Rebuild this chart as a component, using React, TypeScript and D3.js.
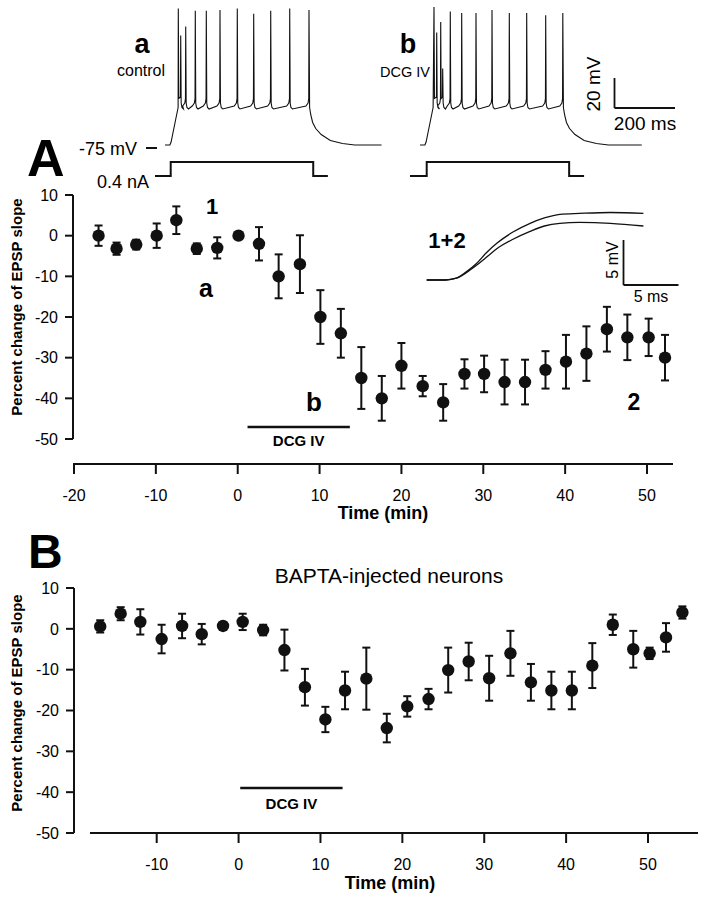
import React from "react";
import * as d3 from "d3";

// Panel A: control neurons (time in min, % change of EPSP slope, SEM)
const timeA = [-17, -14.8, -12.4, -9.9, -7.5, -5.0, -2.5, 0.1, 2.6, 5.0, 7.6, 10.1, 12.6, 15.1, 17.6, 20.0, 22.6, 25.1, 27.7, 30.1, 32.6, 35.1, 37.6, 40.1, 42.6, 45.1, 47.6, 50.2, 52.2];
const meanA = [0, -3.2, -2.2, 0, 3.8, -3.2, -3, 0, -2, -10, -7, -20, -24, -35, -40, -32, -37, -41, -34, -34, -36, -36, -33, -31, -29, -23, -25, -25, -30];
const semA = [2.5, 1.5, 1.2, 3, 3.4, 1.3, 2.6, 0, 4.1, 5.4, 7.1, 6.6, 6, 7.6, 5.5, 5.6, 2.5, 4.5, 3.6, 4.5, 5.5, 5.5, 4.6, 6.6, 6.7, 5.5, 5.6, 4.6, 5.6];

// Panel B: BAPTA-injected neurons
const timeB = [-16.9, -14.4, -12.0, -9.4, -6.9, -4.5, -1.9, 0.5, 3.0, 5.6, 8.1, 10.6, 13.0, 15.6, 18.1, 20.6, 23.2, 25.6, 28.1, 30.6, 33.2, 35.7, 38.2, 40.7, 43.2, 45.7, 48.2, 50.2, 52.2, 54.2];
const meanB = [0.6, 3.7, 1.7, -2.5, 0.7, -1.3, 0.7, 1.7, -0.3, -5.2, -14.3, -22.2, -15.1, -12.2, -24.3, -19, -17.2, -10.1, -8, -12.1, -6, -13.1, -15.1, -15.1, -9, 1, -5, -6, -2.1, 4];
const semB = [1.5, 1.6, 3.1, 3.5, 3, 2.5, 0, 2, 1.3, 5, 4.5, 3.1, 4.6, 7.6, 3.5, 2.5, 2.5, 5.5, 4.6, 5.5, 5.5, 4.5, 4.6, 4.6, 5.5, 2.5, 4.5, 1.4, 3.5, 1.5];

const yTicks = [10, 0, -10, -20, -30, -40, -50];
const xTicksA = [-20, -10, 0, 10, 20, 30, 40, 50];
const xTicksB = [-10, 0, 10, 20, 30, 40, 50];
const drugA: [number, number] = [1.2, 13.7];
const drugB: [number, number] = [0.2, 12.7];

// firing traces (ms from trace start, mV)
const spikesA = [43.6, 51.5, 67.9, 99.3, 135.4, 180.3, 237, 290.8, 346.6, 408.9, 472.1];
const peaksA = [16, -2, 4, 14.5, 14.5, 15, 16, 12.5, 14.5, 16, 15];
const spikesB = [45.9, 54.8, 67.9, 74.4, 99.3, 136.7, 183.6, 236.1, 292.8, 349.8, 412.1, 468.2];
const peaksB = [17, 0, 7, -24, 14, 13, 13, 15, 13, 13, 11.5, 13];
const onset: [number, number][] = [[0, -75], [16, -75], [20, -73], [26, -67], [34, -59], [40, -53], [43, -50]];
const offset: [number, number][] = [[2, -50], [6, -55], [12, -60], [22, -64], [40, -68], [70, -72], [110, -74], [150, -75]];
const stepA: [number, number][] = [[-32.8, 0], [18.7, 0], [18.7, 0.4], [486, 0.4], [486, 0], [534, 0]];
const stepB: [number, number][] = [[-32.8, 0], [22, 0], [22, 0.4], [489, 0.4], [489, 0], [538, 0]];
const endA = 710;
const endB = 727;

// EPSP insert (ms, mV)
const epsp1: [number, number][] = [[0, 0], [1.7, 0], [2.7, 0.2], [3.6, 0.9], [4.5, 1.8], [5.4, 3], [6.4, 4.1], [7.8, 5.3], [9.4, 6.3], [10.7, 6.9], [12.1, 7.3], [13.9, 7.4], [16.7, 7.5], [19.7, 7.4]];
const epsp2: [number, number][] = [[0, 0], [1.7, 0], [2.7, 0.2], [3.6, 0.8], [4.5, 1.6], [5.4, 2.5], [6.4, 3.5], [7.8, 4.5], [9.4, 5.4], [10.7, 6.0], [12.1, 6.3], [13.9, 6.4], [16.7, 6.3], [19.7, 6.0]];

const FONT = "'Liberation Sans', Arial, Helvetica, sans-serif";

function buildTrain(spikes: number[], peaks: number[], end: number): [number, number][] {
  const pts: [number, number][] = [...onset];
  spikes.forEach((t, i) => {
    pts.push([t, peaks[i]]);
    const next = spikes[i + 1];
    if (next === undefined) return;
    if (next - t < 12) {
      pts.push([t + 1.5, -44], [next - 0.8, -43]);
    } else {
      pts.push([t + 1.5, -47], [t + 4, -50], [t + 9, -51], [next - 10, -49], [next - 3, -47], [next - 0.8, -44]);
    }
  });
  const last = spikes[spikes.length - 1];
  offset.forEach(([dt, v]) => pts.push([last + dt, v]));
  pts.push([end, -75]);
  return pts;
}

const Trace = ({ x0, spikes, peaks, end, step }: { x0: number; spikes: number[]; peaks: number[]; end: number; step: [number, number][] }) => {
  const x = d3.scaleLinear().domain([0, 200]).range([x0, x0 + 61]);
  const y = d3.scaleLinear().domain([-75, -55]).range([145, 115]);
  const yI = d3.scaleLinear().domain([0, 0.4]).range([176, 162]);
  const line = d3.line<[number, number]>().x((d) => x(d[0])).y((d) => y(d[1]));
  const stepLine = d3.line<[number, number]>().x((d) => x(d[0])).y((d) => yI(d[1]));
  return (
    <g>
      <path d={line(buildTrain(spikes, peaks, end)) || ""} fill="none" stroke="#111" strokeWidth={1.1} />
      <path d={stepLine(step) || ""} fill="none" stroke="#111" strokeWidth={2} />
    </g>
  );
};

const ErrorPlot = ({ t, m, s, x, y }: { t: number[]; m: number[]; s: number[]; x: d3.ScaleLinear<number, number>; y: d3.ScaleLinear<number, number> }) => (
  <g>
    {t.map((tt, i) => {
      const cx = x(tt);
      const lo = y(m[i] - s[i]);
      const hi = y(m[i] + s[i]);
      return (
        <g key={i}>
          {s[i] > 0 && (
            <g stroke="#111" strokeWidth={2}>
              <line x1={cx} x2={cx} y1={lo} y2={hi} />
              <line x1={cx - 4} x2={cx + 4} y1={lo} y2={lo} />
              <line x1={cx - 4} x2={cx + 4} y1={hi} y2={hi} />
            </g>
          )}
          <circle cx={cx} cy={y(m[i])} r={6.2} fill="#111" />
        </g>
      );
    })}
  </g>
);

const YAxis = ({ y, x0 }: { y: d3.ScaleLinear<number, number>; x0: number }) => (
  <g>
    <line x1={x0} x2={x0} y1={y(10)} y2={y(-50)} stroke="#111" strokeWidth={2} />
    {yTicks.map((v) => (
      <g key={v}>
        <line x1={x0 - 8} x2={x0} y1={y(v)} y2={y(v)} stroke="#111" strokeWidth={2} />
        <text x={x0 - 15} y={y(v)} dy="0.36em" textAnchor="end" fontSize={16} fontFamily={FONT}>{v}</text>
      </g>
    ))}
  </g>
);

const XAxis = ({ x, ticks, y0, x1, x2 }: { x: d3.ScaleLinear<number, number>; ticks: number[]; y0: number; x1: number; x2: number }) => (
  <g>
    <line x1={x1} x2={x2} y1={y0} y2={y0} stroke="#111" strokeWidth={2} />
    {ticks.map((v) => (
      <g key={v}>
        <line x1={x(v)} x2={x(v)} y1={y0} y2={y0 + 10} stroke="#111" strokeWidth={2} />
        <text x={x(v)} y={y0 + 31} dy="0.36em" textAnchor="middle" fontSize={16} fontFamily={FONT}>{v}</text>
      </g>
    ))}
  </g>
);

export default function App() {
  const xA = d3.scaleLinear().domain([-20, 50]).range([74, 647]);
  const yA = d3.scaleLinear().domain([10, -50]).range([195, 439]);
  const xB = d3.scaleLinear().domain([-10, 50]).range([156.7, 648]);
  const yB = d3.scaleLinear().domain([10, -50]).range([588, 833]);

  const xE = d3.scaleLinear().domain([0, 5]).range([426.7, 481.7]);
  const yE = d3.scaleLinear().domain([0, 5]).range([280, 235]);
  const eLine = d3.line<[number, number]>().x((d) => xE(d[0])).y((d) => yE(d[1])).curve(d3.curveMonotoneX);

  return (
    <svg width={704} height={899} style={{ position: "absolute", left: 0, top: 0, background: "#fff" }} fontFamily={FONT}>
      <rect width={704} height={899} fill="#fff" />

      {/* firing traces */}
      <Trace x0={165} spikes={spikesA} peaks={peaksA} end={endA} step={stepA} />
      <Trace x0={420} spikes={spikesB} peaks={peaksB} end={endB} step={stepB} />
      <text x={142} y={53} textAnchor="middle" fontSize={27} fontWeight="bold">a</text>
      <text x={141} y={76} textAnchor="middle" fontSize={16}>control</text>
      <text x={408} y={53} textAnchor="middle" fontSize={27} fontWeight="bold">b</text>
      <text x={405} y={77} textAnchor="middle" fontSize={14.5}>DCG IV</text>
      <line x1={614.5} x2={614.5} y1={78} y2={108} stroke="#111" strokeWidth={1.8} />
      <line x1={614.5} x2={675} y1={108} y2={108} stroke="#111" strokeWidth={1.8} />
      <text transform="translate(600,84) rotate(-90)" textAnchor="middle" fontSize={19}>20 mV</text>
      <text x={645} y={130} textAnchor="middle" fontSize={19}>200 ms</text>
      <text x={137} y={155} textAnchor="end" fontSize={18}>-75 mV</text>
      <line x1={146} x2={157} y1={148} y2={148} stroke="#111" strokeWidth={2} />
      <text x={149} y={188} textAnchor="end" fontSize={18}>0.4 nA</text>

      {/* panel A */}
      <text x={27} y={176} fontSize={52} fontWeight="bold">A</text>
      <YAxis y={yA} x0={73} />
      <XAxis x={xA} ticks={xTicksA} y0={464} x1={73} x2={673} />
      <text transform="translate(22,307) rotate(-90)" textAnchor="middle" fontSize={15} fontWeight="bold">Percent change of EPSP slope</text>
      <text x={383} y={519} textAnchor="middle" fontSize={18} fontWeight="bold">Time (min)</text>
      <ErrorPlot t={timeA} m={meanA} s={semA} x={xA} y={yA} />
      <line x1={xA(drugA[0])} x2={xA(drugA[1])} y1={427} y2={427} stroke="#111" strokeWidth={2.5} />
      <text x={(xA(drugA[0]) + xA(drugA[1])) / 2} y={446} textAnchor="middle" fontSize={15} fontWeight="bold">DCG IV</text>
      <text x={212} y={214} textAnchor="middle" fontSize={22} fontWeight="bold">1</text>
      <text x={206} y={297} textAnchor="middle" fontSize={25} fontWeight="bold">a</text>
      <text x={314} y={411} textAnchor="middle" fontSize={26} fontWeight="bold">b</text>
      <text x={634} y={410} textAnchor="middle" fontSize={23} fontWeight="bold">2</text>

      {/* EPSP insert */}
      <path d={eLine(epsp1) || ""} fill="none" stroke="#111" strokeWidth={1.3} />
      <path d={eLine(epsp2) || ""} fill="none" stroke="#111" strokeWidth={1.3} />
      <text x={447} y={248} textAnchor="middle" fontSize={22} fontWeight="bold">1+2</text>
      <line x1={623.5} x2={623.5} y1={yE(5) + 5} y2={285} stroke="#111" strokeWidth={1.8} />
      <line x1={623.5} x2={678.5} y1={285} y2={285} stroke="#111" strokeWidth={1.8} />
      <text transform="translate(618,260) rotate(-90)" textAnchor="middle" fontSize={16}>5 mV</text>
      <text x={651} y={302} textAnchor="middle" fontSize={16}>5 ms</text>

      {/* panel B */}
      <text x={28} y={568} fontSize={48} fontWeight="bold">B</text>
      <text x={389} y={583} textAnchor="middle" fontSize={21}>BAPTA-injected neurons</text>
      <YAxis y={yB} x0={74} />
      <XAxis x={xB} ticks={xTicksB} y0={833} x1={90} x2={698} />
      <text transform="translate(22,703) rotate(-90)" textAnchor="middle" fontSize={15} fontWeight="bold">Percent change of EPSP slope</text>
      <text x={390} y={889} textAnchor="middle" fontSize={18} fontWeight="bold">Time (min)</text>
      <ErrorPlot t={timeB} m={meanB} s={semB} x={xB} y={yB} />
      <line x1={xB(drugB[0])} x2={xB(drugB[1])} y1={788} y2={788} stroke="#111" strokeWidth={2.5} />
      <text x={(xB(drugB[0]) + xB(drugB[1])) / 2} y={809} textAnchor="middle" fontSize={15} fontWeight="bold">DCG IV</text>
    </svg>
  );
}
